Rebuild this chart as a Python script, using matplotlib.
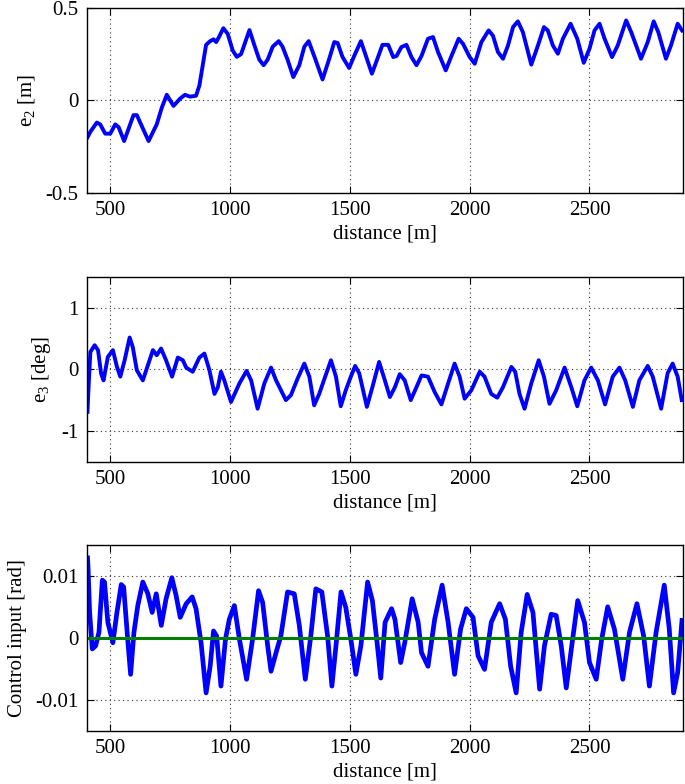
import numpy as np
import matplotlib
matplotlib.use("Agg")
import matplotlib.pyplot as plt

plt.rcParams["font.family"] = ["Liberation Serif", "DejaVu Serif"]
plt.rcParams["mathtext.fontset"] = "custom"
plt.rcParams["mathtext.rm"] = "Liberation Serif"
plt.rcParams["mathtext.it"] = "Liberation Serif:italic"
plt.rcParams["axes.unicode_minus"] = False

# ── data ─────────────────────────────────────────────────────────────────
e2_x = [405, 417, 444, 458, 479, 500, 521, 535, 558, 597, 611, 660, 694, 715,
        736, 764, 792, 812, 833, 858, 872, 886, 900, 917, 931, 942, 953, 972,
        990, 1011, 1028, 1046, 1081, 1101, 1122, 1140, 1157, 1178, 1203, 1219,
        1240, 1264, 1289, 1310, 1328, 1351, 1386, 1414, 1435, 1449, 1469, 1497,
        1518, 1546, 1567, 1592, 1615, 1636, 1660, 1681, 1695, 1715, 1736, 1757,
        1778, 1799, 1826, 1847, 1868, 1900, 1924, 1954, 1972, 2000, 2021, 2049,
        2079, 2097, 2118, 2139, 2160, 2181, 2201, 2222, 2257, 2285, 2310, 2326,
        2347, 2368, 2389, 2421, 2449, 2476, 2500, 2521, 2542, 2563, 2594, 2618,
        2653, 2674, 2715, 2743, 2768, 2787, 2819, 2840, 2868, 2886]
e2_y = [-0.20, -0.17, -0.12, -0.13, -0.18, -0.18, -0.13, -0.145, -0.22, -0.08,
        -0.08, -0.22, -0.13, -0.04, 0.03, -0.03, 0.01, 0.03, 0.02, 0.025, 0.08,
        0.19, 0.30, 0.32, 0.33, 0.315, 0.34, 0.39, 0.36, 0.27, 0.235, 0.25,
        0.38, 0.30, 0.22, 0.19, 0.22, 0.29, 0.32, 0.29, 0.22, 0.126, 0.19,
        0.29, 0.32, 0.24, 0.113, 0.225, 0.315, 0.31, 0.235, 0.175, 0.24, 0.32,
        0.24, 0.144, 0.225, 0.30, 0.30, 0.234, 0.24, 0.288, 0.30, 0.234, 0.19,
        0.24, 0.333, 0.342, 0.261, 0.162, 0.24, 0.333, 0.306, 0.234, 0.198,
        0.315, 0.378, 0.35, 0.261, 0.225, 0.297, 0.396, 0.427, 0.369, 0.193,
        0.297, 0.396, 0.378, 0.297, 0.252, 0.333, 0.414, 0.333, 0.203, 0.279,
        0.378, 0.414, 0.333, 0.234, 0.297, 0.432, 0.369, 0.225, 0.315, 0.427,
        0.369, 0.225, 0.297, 0.414, 0.378]

e3_x = [405, 407, 411, 417, 435, 449, 462, 472, 490, 511, 528, 542, 560, 581,
        594, 611, 636, 664, 678, 694, 712, 733, 758, 782, 803, 817, 844, 872,
        893, 914, 935, 949, 962, 976, 1004, 1039, 1069, 1088, 1115, 1143, 1171,
        1192, 1233, 1254, 1282, 1310, 1331, 1351, 1372, 1397, 1421, 1442, 1462,
        1483, 1504, 1522, 1539, 1571, 1594, 1622, 1646, 1667, 1688, 1708, 1729,
        1754, 1778, 1799, 1826, 1854, 1882, 1910, 1937, 1958, 1979, 2007, 2042,
        2062, 2090, 2115, 2139, 2174, 2190, 2208, 2229, 2257, 2288, 2310, 2333,
        2361, 2396, 2424, 2449, 2479, 2507, 2535, 2565, 2597, 2625, 2649, 2681,
        2708, 2743, 2764, 2799, 2826, 2847, 2868, 2885]
e3_y = [-0.69, -0.50, -0.18, 0.28, 0.39, 0.31, -0.07, -0.18, 0.20, 0.31, 0.04,
        -0.12, 0.146, 0.515, 0.36, -0.016, -0.18, 0.146, 0.31, 0.227, 0.336,
        0.146, -0.12, 0.19, 0.146, 0.027, -0.04, 0.19, 0.255, -0.016, -0.40,
        -0.29, -0.04, -0.18, -0.53, -0.23, -0.027, -0.18, -0.64, -0.23, 0.027,
        -0.18, -0.50, -0.42, -0.15, 0.092, -0.12, -0.585, -0.40, -0.12, 0.146,
        -0.12, -0.60, -0.34, -0.12, 0.054, -0.065, -0.61, -0.29, 0.119, -0.18,
        -0.45, -0.29, -0.08, -0.18, -0.50, -0.29, -0.10, -0.12, -0.37, -0.57,
        -0.23, 0.092, -0.12, -0.477, -0.34, -0.04, -0.12, -0.40, -0.46, -0.29,
        0.038, -0.04, -0.40, -0.64, -0.23, 0.146, -0.12, -0.56, -0.34, 0.027,
        -0.29, -0.60, -0.18, 0.027, -0.18, -0.57, -0.12, 0.027, -0.18, -0.61,
        -0.18, 0.054, -0.12, -0.64, -0.065, 0.092, -0.12, -0.50]

u_x = [405, 407, 414, 425, 439, 453, 467, 476, 490, 511, 528, 546, 556, 574,
       585, 599, 615, 636, 657, 675, 692, 713, 733, 757, 775, 792, 817, 842,
       858, 879, 900, 917, 931, 944, 962, 981, 997, 1018, 1039, 1069, 1094,
       1119, 1136, 1157, 1171, 1192, 1212, 1240, 1268, 1289, 1314, 1337, 1358,
       1383, 1407, 1425, 1442, 1463, 1483, 1504, 1525, 1546, 1574, 1594, 1615,
       1629, 1647, 1674, 1688, 1712, 1729, 1760, 1785, 1799, 1826, 1854, 1885,
       1910, 1937, 1962, 1986, 2014, 2035, 2062, 2090, 2125, 2149, 2171, 2194,
       2215, 2240, 2264, 2292, 2312, 2340, 2361, 2382, 2403, 2426, 2451, 2479,
       2500, 2528, 2551, 2576, 2604, 2639, 2667, 2698, 2726, 2750, 2778, 2812,
       2833, 2851, 2868, 2886]
u_y = [0.0129, 0.0117, 0.0041, -0.0018, -0.0013, 0.0009, 0.0093, 0.0090,
       0.0025, -0.0008, 0.0041, 0.0086, 0.0082, -0.0008, -0.0059, 0.0009,
       0.0052, 0.0090, 0.0071, 0.0041, 0.0071, 0.0020, 0.0063, 0.0097, 0.0068,
       0.0033, 0.0055, 0.0066, 0.0047, -0.0008, -0.0089, -0.0046, 0.0011,
       0.0003, -0.0078, -0.0002, 0.0030, 0.0052, -0.0002, -0.0067, -0.0002,
       0.0076, 0.0057, -0.0013, -0.0054, -0.0024, 0.0003, 0.0074, 0.0071,
       0.0020, -0.0067, 0.0003, 0.0079, 0.0074, 0.0003, -0.0078, -0.0013,
       0.0074, 0.0049, -0.0002, -0.0059, -0.0013, 0.0090, 0.0060, -0.0013,
       -0.0065, 0.0025, 0.0047, 0.0030, -0.0040, -0.0008, 0.0063, 0.0025,
       -0.0024, -0.0046, 0.0030, 0.0085, 0.0025, -0.0059, 0.0014, 0.0047,
       0.0033, -0.0029, -0.0051, 0.0025, 0.0055, 0.0030, -0.0046, -0.0089,
       0.0009, 0.0070, 0.0041, -0.0083, -0.0013, 0.0038, 0.0036, -0.0013,
       -0.0081, -0.0013, 0.0060, 0.0025, -0.0040, -0.0067, -0.0002, 0.0050,
       0.0014, -0.0067, 0.0009, 0.0055, 0.0003, -0.0078, 0.0009, 0.0085,
       0.0014, -0.0089, -0.0056, 0.0028]

x_ticks = [500, 1000, 1500, 2000, 2500]
e2_ticks = [-0.5, 0, 0.5]
e2_ticklabels = ["-0.5", "0", "0.5"]
e3_ticks = [-1, 0, 1]
e3_ticklabels = ["-1", "0", "1"]
u_ticks = [-0.01, 0, 0.01]
u_ticklabels = ["-0.01", "0", "0.01"]

XLIM = (403, 2890)
FS = 15

fig = plt.figure(figsize=(6.85, 7.84), dpi=100)
ax1 = fig.add_axes([0.127, 0.754, 0.870, 0.236])
ax2 = fig.add_axes([0.127, 0.411, 0.870, 0.236])
ax3 = fig.add_axes([0.127, 0.068, 0.870, 0.237])


def style(ax, yticks, ylabels, ylim, ylabel):
    ax.set_xlim(*XLIM)
    ax.set_ylim(*ylim)
    ax.set_xticks(x_ticks)
    ax.set_xticklabels([str(t) for t in x_ticks], fontsize=FS)
    ax.set_yticks(yticks)
    ax.set_yticklabels(ylabels, fontsize=FS)
    ax.tick_params(direction="in", top=True, right=True, length=5, width=0.8,
                   pad=6)
    ax.grid(True, color="#333333", ls=(0, (1, 3)), lw=0.8)
    ax.set_axisbelow(True)
    for s in ax.spines.values():
        s.set_linewidth(1.0)
    ax.set_xlabel("distance [m]", fontsize=FS, labelpad=3)
    ax.set_ylabel(ylabel, fontsize=FS, labelpad=6)


ax1.plot(e2_x, e2_y, color="#0000ff", lw=2.8, solid_joinstyle="round")
style(ax1, e2_ticks, e2_ticklabels, (-0.5, 0.5), r"e$_\mathrm{2}$ [m]")

ax2.plot(e3_x, e3_y, color="#0000ff", lw=2.8, solid_joinstyle="round")
style(ax2, e3_ticks, e3_ticklabels, (-1.5, 1.5), r"e$_\mathrm{3}$ [deg]")

ax3.plot(u_x, u_y, color="#0000ff", lw=3.4, solid_joinstyle="round")
ax3.axhline(0, color="#008000", lw=2.2)
style(ax3, u_ticks, u_ticklabels, (-0.015, 0.015), "Control input [rad]")

fig.savefig("out.png", dpi=100)
